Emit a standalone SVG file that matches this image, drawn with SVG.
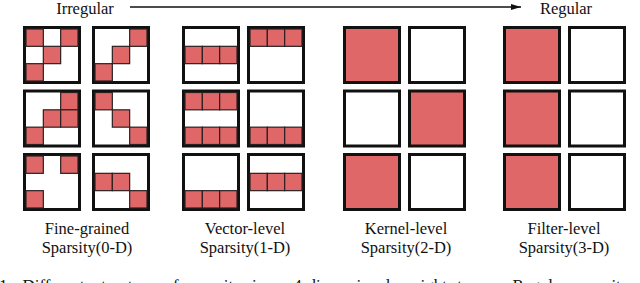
<svg xmlns="http://www.w3.org/2000/svg" width="640" height="283" viewBox="0 0 640 283">
<style>
  .bg{fill:#ffffff}
  .box{fill:#ffffff;stroke:#111111;stroke-width:3}
  .full{fill:#e06767;stroke:#111111;stroke-width:3}
  .c{fill:#e06767;stroke:#2a2020;stroke-width:1.2}
  .t{font-family:"Liberation Serif","Times New Roman",serif;font-size:16.5px;fill:#111111;text-anchor:middle}
  .cap{font-family:"Liberation Serif","Times New Roman",serif;font-size:17px;fill:#111111;word-spacing:6px}
  .arrow{stroke:#111111;stroke-width:1.3;fill:none}
</style>
<defs>
  <marker id="ah" viewBox="0 0 10 6" refX="10" refY="3" markerWidth="10" markerHeight="6" markerUnits="userSpaceOnUse" orient="auto">
    <path d="M0,0 L10,3 L0,6 Z" fill="#111111"/>
  </marker>
  <rect id="b" class="box" x="1.5" y="1.5" width="55" height="55"/>
  <rect id="f" class="full" x="1.5" y="1.5" width="55" height="55"/>
</defs>
<rect class="bg" x="0" y="0" width="640" height="283"/>

<text class="t" x="85" y="13.5">Irregular</text>
<text class="t" x="566" y="13.5">Regular</text>

<g id="connectors">
  <line class="arrow" x1="130" y1="7" x2="521" y2="7" marker-end="url(#ah)"/>
</g>

<!-- Fine-grained -->
<g id="fine-grained">
  <g id="fg-r1-a" transform="translate(23,26)">
    <use href="#b"/>
    <rect class="c" x="3" y="3" width="17.33" height="17.33"/>
    <rect class="c" x="37.67" y="3" width="17.33" height="17.33"/>
    <rect class="c" x="20.33" y="20.33" width="17.33" height="17.33"/>
    <rect class="c" x="3" y="37.67" width="17.33" height="17.33"/>
  </g>
  <g id="fg-r1-b" transform="translate(92,26)">
    <use href="#b"/>
    <rect class="c" x="37.67" y="3" width="17.33" height="17.33"/>
    <rect class="c" x="20.33" y="20.33" width="17.33" height="17.33"/>
    <rect class="c" x="3" y="37.67" width="17.33" height="17.33"/>
  </g>
  <g id="fg-r2-a" transform="translate(23,89.5)">
    <use href="#b"/>
    <rect class="c" x="37.67" y="3" width="17.33" height="17.33"/>
    <rect class="c" x="20.33" y="20.33" width="17.33" height="17.33"/>
    <rect class="c" x="37.67" y="20.33" width="17.33" height="17.33"/>
    <rect class="c" x="3" y="37.67" width="17.33" height="17.33"/>
  </g>
  <g id="fg-r2-b" transform="translate(92,89.5)">
    <use href="#b"/>
    <rect class="c" x="3" y="3" width="17.33" height="17.33"/>
    <rect class="c" x="20.33" y="20.33" width="17.33" height="17.33"/>
    <rect class="c" x="37.67" y="37.67" width="17.33" height="17.33"/>
  </g>
  <g id="fg-r3-a" transform="translate(23,153)">
    <use href="#b"/>
    <rect class="c" x="3" y="3" width="17.33" height="17.33"/>
    <rect class="c" x="37.67" y="3" width="17.33" height="17.33"/>
    <rect class="c" x="3" y="37.67" width="17.33" height="17.33"/>
  </g>
  <g id="fg-r3-b" transform="translate(92,153)">
    <use href="#b"/>
    <rect class="c" x="3" y="20.33" width="17.33" height="17.33"/>
    <rect class="c" x="20.33" y="20.33" width="17.33" height="17.33"/>
    <rect class="c" x="37.67" y="37.67" width="17.33" height="17.33"/>
  </g>
  <text class="t" x="87" y="234">Fine-grained</text>
  <text class="t" x="87" y="253">Sparsity(0-D)</text>
</g>

<!-- Vector-level -->
<g id="vector-level">
  <g id="vl-r1-a" transform="translate(182,26)">
    <use href="#b"/>
    <rect class="c" x="3" y="20.33" width="17.33" height="17.33"/>
    <rect class="c" x="20.33" y="20.33" width="17.33" height="17.33"/>
    <rect class="c" x="37.67" y="20.33" width="17.33" height="17.33"/>
  </g>
  <g id="vl-r1-b" transform="translate(247,26)">
    <use href="#b"/>
    <rect class="c" x="3" y="3" width="17.33" height="17.33"/>
    <rect class="c" x="20.33" y="3" width="17.33" height="17.33"/>
    <rect class="c" x="37.67" y="3" width="17.33" height="17.33"/>
  </g>
  <g id="vl-r2-a" transform="translate(182,89.5)">
    <use href="#b"/>
    <rect class="c" x="3" y="3" width="17.33" height="17.33"/>
    <rect class="c" x="20.33" y="3" width="17.33" height="17.33"/>
    <rect class="c" x="37.67" y="3" width="17.33" height="17.33"/>
    <rect class="c" x="3" y="37.67" width="17.33" height="17.33"/>
    <rect class="c" x="20.33" y="37.67" width="17.33" height="17.33"/>
    <rect class="c" x="37.67" y="37.67" width="17.33" height="17.33"/>
  </g>
  <g id="vl-r2-b" transform="translate(247,89.5)">
    <use href="#b"/>
    <rect class="c" x="3" y="37.67" width="17.33" height="17.33"/>
    <rect class="c" x="20.33" y="37.67" width="17.33" height="17.33"/>
    <rect class="c" x="37.67" y="37.67" width="17.33" height="17.33"/>
  </g>
  <g id="vl-r3-a" transform="translate(182,153)">
    <use href="#b"/>
    <rect class="c" x="3" y="37.67" width="17.33" height="17.33"/>
    <rect class="c" x="20.33" y="37.67" width="17.33" height="17.33"/>
    <rect class="c" x="37.67" y="37.67" width="17.33" height="17.33"/>
  </g>
  <g id="vl-r3-b" transform="translate(247,153)">
    <use href="#b"/>
    <rect class="c" x="3" y="20.33" width="17.33" height="17.33"/>
    <rect class="c" x="20.33" y="20.33" width="17.33" height="17.33"/>
    <rect class="c" x="37.67" y="20.33" width="17.33" height="17.33"/>
  </g>
  <text class="t" x="245" y="234">Vector-level</text>
  <text class="t" x="245" y="253">Sparsity(1-D)</text>
</g>

<!-- Kernel-level -->
<g id="kernel-level">
  <g id="kl-r1-a" transform="translate(343,26)"><use href="#f"/></g>
  <g id="kl-r1-b" transform="translate(408,26)"><use href="#b"/></g>
  <g id="kl-r2-a" transform="translate(343,89.5)"><use href="#b"/></g>
  <g id="kl-r2-b" transform="translate(408,89.5)"><use href="#f"/></g>
  <g id="kl-r3-a" transform="translate(343,153)"><use href="#f"/></g>
  <g id="kl-r3-b" transform="translate(408,153)"><use href="#b"/></g>
  <text class="t" x="406" y="234">Kernel-level</text>
  <text class="t" x="406" y="253">Sparsity(2-D)</text>
</g>

<!-- Filter-level -->
<g id="filter-level">
  <g id="fl-r1-a" transform="translate(503,26)"><use href="#f"/></g>
  <g id="fl-r1-b" transform="translate(568,26)"><use href="#b"/></g>
  <g id="fl-r2-a" transform="translate(503,89.5)"><use href="#f"/></g>
  <g id="fl-r2-b" transform="translate(568,89.5)"><use href="#b"/></g>
  <g id="fl-r3-a" transform="translate(503,153)"><use href="#f"/></g>
  <g id="fl-r3-b" transform="translate(568,153)"><use href="#b"/></g>
  <text class="t" x="564" y="234">Filter-level</text>
  <text class="t" x="564" y="253">Sparsity(3-D)</text>
</g>

<text class="cap" x="-1" y="290.5">1: Different structure of sparsity in a 4-dimensional weight tensor. Regular sparsity makes</text>
</svg>
